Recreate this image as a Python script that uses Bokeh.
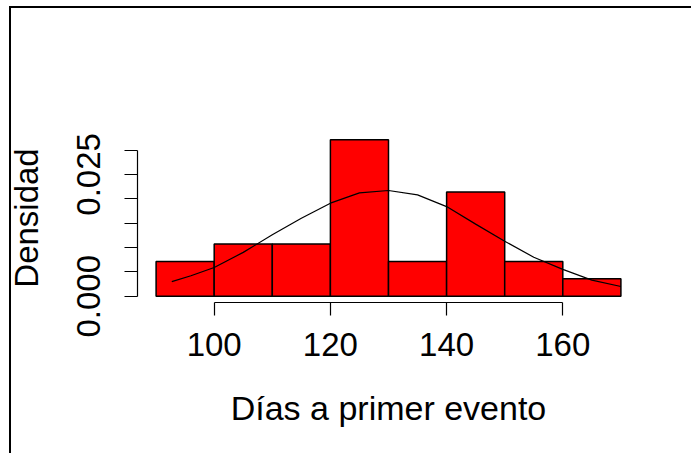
from bokeh.plotting import figure
from bokeh.models import Range1d, FixedTicker
from bokeh.embed import file_html
from bokeh.resources import INLINE

# Histogram data (densities)
breaks = [90, 100, 110, 120, 130, 140, 150, 160, 170]
density = [0.00714, 0.0107, 0.0107, 0.0321, 0.00714, 0.0214, 0.00714, 0.00357]

# Density curve
curve_x = [92.7, 96, 100, 105, 110, 115, 120, 125, 130, 135, 140, 145, 150, 155, 160, 165, 170]
curve_y = [0.0030, 0.0042, 0.0059, 0.0090, 0.0126, 0.0160, 0.0191, 0.0212, 0.0217,
           0.0208, 0.0184, 0.0148, 0.0113, 0.0080, 0.0055, 0.0033, 0.0020]

x_ticks = [100, 120, 140, 160]
y_ticks = [0.0, 0.005, 0.01, 0.015, 0.02, 0.025, 0.03]
y_labels = {0.0: "0.000", 0.005: "", 0.01: "", 0.015: "", 0.02: "", 0.025: "0.025", 0.03: ""}

FONT = "Liberation Sans"
FS = "33px"

p = figure(width=691, height=453, output_backend="svg", toolbar_location=None,
           x_range=Range1d(86.8, 173.2), y_range=Range1d(-0.00129, 0.0334),
           min_border_left=137, min_border_right=52, min_border_top=133, min_border_bottom=151)

p.quad(left=breaks[:-1], right=breaks[1:], bottom=0, top=density,
       fill_color="red", line_color="black", line_width=1.5)
p.line(curve_x, curve_y, line_color="black", line_width=1.2)

p.xgrid.visible = False
p.ygrid.visible = False
p.outline_line_color = None
p.background_fill_color = "white"
p.border_fill_color = None

for ax in (p.xaxis[0], p.yaxis[0]):
    ax.major_tick_in = 0
    ax.major_tick_out = 13
    ax.minor_tick_out = 0
    ax.minor_tick_in = 0
    ax.axis_line_color = "black"
    ax.major_tick_line_color = "black"
    ax.axis_line_width = 1.2
    ax.major_tick_line_width = 1.2
    ax.major_label_text_font = FONT
    ax.major_label_text_font_size = FS
    ax.major_label_text_color = "black"
    ax.axis_label_text_font = FONT
    ax.axis_label_text_font_size = FS
    ax.axis_label_text_font_style = "normal"
    ax.axis_label_text_color = "black"

p.xaxis.ticker = FixedTicker(ticks=x_ticks)
p.xaxis.bounds = (x_ticks[0], x_ticks[-1])
p.xaxis.axis_label = "Días a primer evento"
p.xaxis.axis_label_text_font_size = "34px"
p.xaxis.major_label_standoff = 17
p.xaxis.axis_label_standoff = 30

p.yaxis.ticker = FixedTicker(ticks=y_ticks)
p.yaxis.bounds = (y_ticks[0], y_ticks[-1])
p.yaxis.major_label_overrides = y_labels
p.yaxis.major_label_orientation = "vertical"
p.yaxis.axis_label = "Densidad"
p.yaxis.major_label_standoff = 24
p.yaxis.axis_label_standoff = 30

# Thin frame lines along the top and left of the picture (screenshot edge)
p.styles = {
    "background": ("linear-gradient(#000,#000) 9px 6px / 2px calc(100% - 6px) no-repeat, "
                   "linear-gradient(#000,#000) 9px 6px / calc(100% - 9px) 2px no-repeat, #fff"),
}

open("out.html", "w").write(file_html(p, INLINE))
